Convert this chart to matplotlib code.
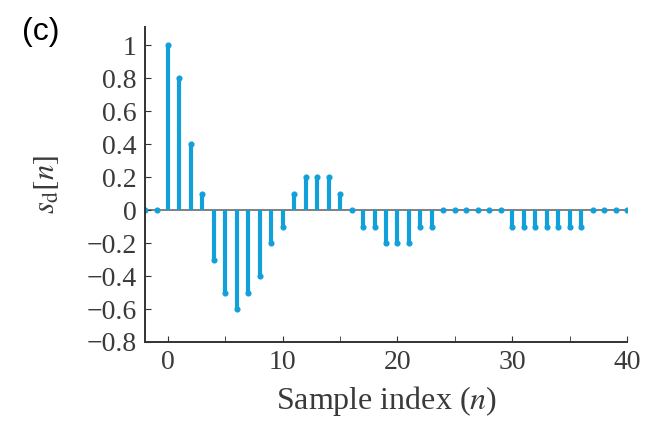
import numpy as np
import matplotlib
matplotlib.use("Agg")
import matplotlib.pyplot as plt
from matplotlib.ticker import MultipleLocator

plt.rcParams['font.family'] = ['Liberation Serif', 'DejaVu Serif']
plt.rcParams['mathtext.fontset'] = 'stix'

# sample indices and decimated signal values
n = list(range(-2, 41))
sd = [0, 0, 1.0, 0.8, 0.4, 0.1, -0.3, -0.5, -0.6, -0.5, -0.4, -0.2, -0.1,
      0.1, 0.2, 0.2, 0.2, 0.1, 0, -0.1, -0.1, -0.2, -0.2, -0.2, -0.1, -0.1,
      0, 0, 0, 0, 0, 0, -0.1, -0.1, -0.1, -0.1, -0.1, -0.1, -0.1,
      0, 0, 0, 0]

stem_color = '#12A0DA'
text_color = '#3a3a3a'

fig = plt.figure(figsize=(6.46, 4.22), dpi=100)
ax = fig.add_axes([0.2245, 0.1896, 0.7461, 0.7464])

markers, stems, base = ax.stem(n, sd, basefmt=' ')
plt.setp(stems, color=stem_color, linewidth=3.0)
plt.setp(markers, color=stem_color, markersize=3.4)
ax.axhline(0, color='#808080', linewidth=1.4, zorder=0)

ax.set_xlim(-2, 40)
ax.set_ylim(-0.8, 1.11)
ax.xaxis.set_major_locator(MultipleLocator(10))
ax.xaxis.set_minor_locator(MultipleLocator(5))
ax.set_yticks(np.arange(-0.8, 1.01, 0.2))
ax.set_yticklabels(['\u22120.8', '\u22120.6', '\u22120.4', '\u22120.2', '0',
                    '0.2', '0.4', '0.6', '0.8', '1'])

for side in ('top', 'right'):
    ax.spines[side].set_visible(False)
for side in ('left', 'bottom'):
    ax.spines[side].set_color('#333333')
    ax.spines[side].set_linewidth(1.4)

ax.tick_params(which='both', direction='in', colors='#333333', labelsize=20,
               labelcolor=text_color, pad=6, length=4)

ax.set_xlabel('Sample index ($n$)', fontsize=23, color=text_color, labelpad=6)
ax.set_ylabel(r'$s_\mathrm{d}[n]$', fontsize=22, color=text_color, labelpad=18)

fig.text(0.034, 0.905, '(c)', fontsize=23, family='Liberation Sans', color='black')

fig.savefig('out.png', dpi=100)
